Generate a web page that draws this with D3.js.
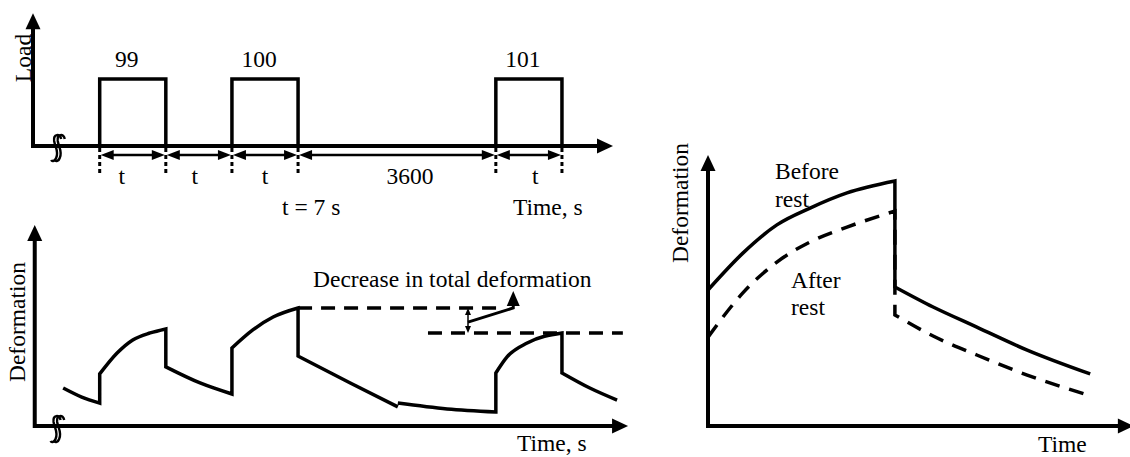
<!DOCTYPE html>
<html>
<head>
<meta charset="utf-8">
<script src="https://cdn.jsdelivr.net/npm/d3@7"></script>
<style>
  body { margin: 0; background: #fff; }
  text { font-family: 'Liberation Serif', 'Times New Roman', serif; font-size: 23.5px; fill: #000; }
</style>
</head>
<body>
<script>
// ---- load history (top panel) ----
var pulseStart = [11.5, 34.3, 79.8];
var pulseWidth = 11.4;
var pulseLabels = ["99", "100", "101"];
var dimBounds = [11.5, 22.9, 34.3, 45.7, 79.8, 91.2];
var dimLabels = ["t", "t", "t", "3600", "t"];
var dimLabelT = [15.3, 27.9, 40.0, 65.0, 86.6];

// ---- deformation history (bottom left), one array per branch ----
var creepT = [[5.2, 8.4, 11.5], [11.5, 14.5, 17.2, 20.2, 22.9], [22.9, 28.8, 34.3],
              [34.3, 37.9, 41.4, 45.7], [45.7, 54.7, 62.9], [62.9, 71.4, 79.8],
              [79.8, 81.7, 85.2, 91.2], [91.2, 96.0, 100.7]];
var creepD = [[18.9, 14.4, 11.4], [25.9, 36.3, 42.8, 46.3, 48.3], [29.4, 21.4, 15.9],
              [38.8, 47.8, 54.2, 58.7], [34.8, 21.4, 9.5], [11.4, 8.5, 7.0],
              [26.4, 34.3, 41.3, 46.3], [26.4, 18.9, 12.9]];
var creepJoin = [false, true, true, true, true, false, true, true];
var refLevel = [58.7, 46.3];
var refStart = [45.7, 68.1];
var refEnd = [80.0, 101.7];
var decT = 75.0;
var leaderT = [75.0, 82.8];
var leaderD = [51.7, 58.7];
var leaderTip = 67.2;

// ---- before / after rest (right panel) ----
var loadT = [0, 8.3, 16.4, 24.3, 33.1, 44.5];
var beforeLoad = [50.2, 63.8, 74.2, 80.4, 86.0, 90.4];
var afterLoad = [32.8, 49.1, 60.5, 67.9, 73.4, 79.3];
var unloadT = [44.5, 53.6, 64.0, 76.0, 91.0];
var beforeUnload = [51.3, 43.9, 36.5, 28.0, 19.2];
var afterUnload = [41.0, 33.2, 26.2, 18.8, 11.2];

var svg = d3.select("body").append("svg")
            .attr("width", 1130)
            .attr("height", 457);

var x = d3.scaleLinear().domain([0, 100]).range([33, 613]);
var loadY = d3.scaleLinear().domain([0, 1]).range([146, 79]);
var defY = d3.scaleLinear().domain([0, 100]).range([426, 225]);
var xR = d3.scaleLinear().domain([0, 100]).range([708, 1128]);
var yR = d3.scaleLinear().domain([0, 100]).range([426, 155]);

function zip(a, b) { return a.map(function(v, i) { return [v, b[i]]; }); }

function head(g, tx, ty, ang, len, half) {
    var ux = Math.cos(ang), uy = Math.sin(ang);
    var bx = tx - ux * len, by = ty - uy * len;
    g.append("path")
     .attr("d", "M" + tx + "," + ty + "L" + (bx - uy * half) + "," + (by + ux * half) +
                "L" + (bx + uy * half) + "," + (by - ux * half) + "Z")
     .attr("fill", "#000");
}

function axes(g, ox, oy, topY, rightX, w) {
    g.append("path")
     .attr("d", "M" + ox + "," + (topY + 10) + "V" + oy + "H" + (rightX - 10))
     .attr("fill", "none").attr("stroke", "#000").attr("stroke-width", w);
    head(g, ox, topY, -Math.PI / 2, 16, 7.5);
    head(g, rightX, oy, 0, 16, 7.5);
}

// axis break sign: two hooked strokes across the axis
function breakMark(g, cx, cy) {
    [-1.8, 1.8].forEach(function(o) {
        var c = cx + o;
        g.append("path")
         .attr("d", "M" + (c + 5) + "," + (cy - 8) +
                    "C" + (c + 4) + "," + (cy - 14) + " " + (c - 3) + "," + (cy - 13) + " " + (c - 2) + "," + (cy - 6) +
                    "C" + (c - 1) + "," + cy + " " + (c + 3) + "," + (cy + 5) + " " + c + "," + (cy + 11) +
                    "C" + (c - 1) + "," + (cy + 14) + " " + (c - 4) + "," + (cy + 15) + " " + (c - 5) + "," + (cy + 13))
         .attr("fill", "none").attr("stroke", "#000").attr("stroke-width", 2.4);
    });
}

// ================= top: load =================
var gTop = svg.append("g");
axes(gTop, x(0), loadY(0), loadY(1.98), x(100), 4);
breakMark(gTop, x(4.3), loadY(0) + 1);

gTop.selectAll(".pulse")
   .data(pulseStart)
   .enter().append("path")
   .attr("class", "pulse")
   .attr("d", function(d) {
       return "M" + x(d) + "," + loadY(0) + "V" + loadY(1) +
              "H" + x(d + pulseWidth) + "V" + loadY(0);
   })
   .attr("fill", "none").attr("stroke", "#000").attr("stroke-width", 3.5);

gTop.selectAll(".pulseLabel")
   .data(pulseStart)
   .enter().append("text")
   .attr("x", function(d) { return x(d + pulseWidth / 2) - 6; })
   .attr("y", 67)
   .attr("text-anchor", "middle")
   .text(function(d, i) { return pulseLabels[i]; });

gTop.selectAll(".tick")
   .data(dimBounds)
   .enter().append("line")
   .attr("x1", function(d) { return x(d); }).attr("x2", function(d) { return x(d); })
   .attr("y1", 148).attr("y2", 176)
   .attr("stroke", "#000").attr("stroke-width", 3).attr("stroke-dasharray", "4,3");

dimLabels.forEach(function(lab, i) {
    var a = x(dimBounds[i]) + 1, b = x(dimBounds[i + 1]) - 1;
    gTop.append("line").attr("x1", a + 8).attr("x2", b - 8).attr("y1", 155).attr("y2", 155)
       .attr("stroke", "#000").attr("stroke-width", 2.5);
    head(gTop, a, 155, Math.PI, 13, 5);
    head(gTop, b, 155, 0, 13, 5);
    gTop.append("text").attr("x", x(dimLabelT[i])).attr("y", 184)
       .attr("text-anchor", "middle").text(lab);
});

gTop.append("text").attr("x", 282).attr("y", 215).text("t = 7 s");
gTop.append("text").attr("x", 513).attr("y", 215).text("Time, s");
gTop.append("text")
   .attr("transform", "translate(31,58) rotate(-90)")
   .attr("text-anchor", "middle").text("Load");

// ================= bottom left: deformation =================
var bl = svg.append("g");
axes(bl, x(0.3), defY(0), defY(100), x(102.6), 4);
breakMark(bl, x(4.2), defY(0) + 2);

var creepLine = d3.line()
                  .x(function(d) { return x(d[0]); })
                  .y(function(d) { return defY(d[1]); })
                  .curve(d3.curveMonotoneX);
var creepPath = creepT.map(function(ts, i) {
    var p = creepLine(zip(ts, creepD[i]));
    return creepJoin[i] ? "L" + p.slice(1) : p;
}).join("");
bl.append("path").attr("d", creepPath)
  .attr("fill", "none").attr("stroke", "#000").attr("stroke-width", 3.5);

refLevel.forEach(function(lv, i) {
    bl.append("line")
      .attr("x1", x(refStart[i])).attr("x2", x(refEnd[i]))
      .attr("y1", defY(lv)).attr("y2", defY(lv))
      .attr("stroke", "#000").attr("stroke-width", 3.5).attr("stroke-dasharray", "14,9");
});

bl.append("line")
  .attr("x1", x(decT)).attr("x2", x(decT))
  .attr("y1", defY(refLevel[0]) + 5).attr("y2", defY(refLevel[1]) - 5)
  .attr("stroke", "#000").attr("stroke-width", 1.5);
head(bl, x(decT), defY(refLevel[0]), -Math.PI / 2, 7, 3);
head(bl, x(decT), defY(refLevel[1]), Math.PI / 2, 7, 3);

bl.append("path")
  .attr("d", "M" + x(leaderT[0]) + "," + defY(leaderD[0]) +
             "L" + x(leaderT[1]) + "," + defY(leaderD[1]) +
             "V" + (defY(leaderTip) + 12))
  .attr("fill", "none").attr("stroke", "#000").attr("stroke-width", 3);
head(bl, x(leaderT[1]), defY(leaderTip), -Math.PI / 2, 15, 6.5);

bl.append("text").attr("x", 313).attr("y", 287).text("Decrease in total deformation");
bl.append("text").attr("x", 517).attr("y", 451).text("Time, s");
bl.append("text")
  .attr("transform", "translate(25,322) rotate(-90)")
  .attr("text-anchor", "middle").text("Deformation");

// ================= right: before / after rest =================
var rp = svg.append("g");
axes(rp, xR(0), yR(0), yR(100), xR(101.4), 4);

var restLine = d3.line()
                 .x(function(d) { return xR(d[0]); })
                 .y(function(d) { return yR(d[1]); })
                 .curve(d3.curveMonotoneX);

rp.append("path")
  .attr("d", restLine(zip(loadT, afterLoad)) + "L" + restLine(zip(unloadT, afterUnload)).slice(1))
  .attr("fill", "none").attr("stroke", "#000").attr("stroke-width", 3.5)
  .attr("stroke-dasharray", "15,10");

rp.append("path")
  .attr("d", restLine(zip(loadT, beforeLoad)) + "L" + restLine(zip(unloadT, beforeUnload)).slice(1))
  .attr("fill", "none").attr("stroke", "#000").attr("stroke-width", 3.5);

rp.append("text").attr("x", 775).attr("y", 179).text("Before");
rp.append("text").attr("x", 775).attr("y", 207).text("rest");
rp.append("text").attr("x", 791).attr("y", 288).text("After");
rp.append("text").attr("x", 791).attr("y", 315).text("rest");
rp.append("text").attr("x", 1038).attr("y", 452).text("Time");
rp.append("text")
  .attr("transform", "translate(688,203) rotate(-90)")
  .attr("text-anchor", "middle").text("Deformation");
</script>
</body>
</html>
